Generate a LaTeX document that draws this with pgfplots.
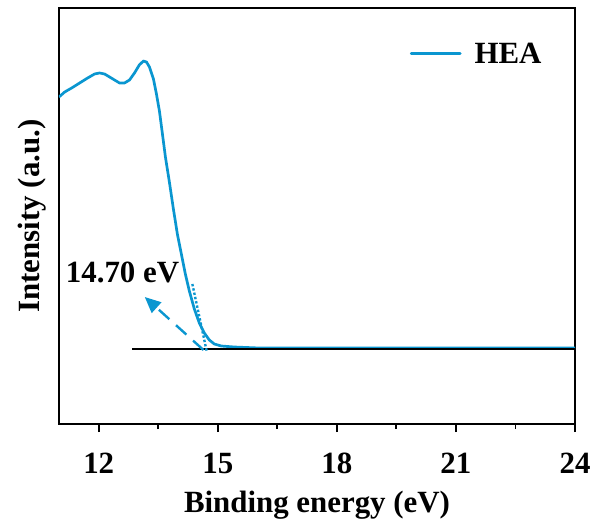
\documentclass[border=0pt]{standalone}
\usepackage{fontspec}
\setmainfont{Liberation Serif}
\usepackage{pgfplots}
\pgfplotsset{compat=1.18}
\usetikzlibrary{arrows.meta}
\definecolor{hea}{RGB}{10,150,208}
\newcommand{\bigf}{\fontsize{31}{36}\selectfont\bfseries}
\begin{document}
\begin{tikzpicture}
\begin{axis}[
  scale only axis,
  width=516bp, height=416bp,
  xmin=11, xmax=24, ymin=0, ymax=416,
  axis line style={line width=1.8pt},
  xtick={12,15,18,21,24},
  minor xtick={13.5,16.5,19.5,22.5},
  ytick=\empty,
  xtick pos=bottom,
  tick align=outside,
  major tick length=8bp, minor tick length=5bp,
  every tick/.style={line width=1.8pt, black},
  /pgf/number format/assume math mode=true,
  tick label style={font=\bigf},
  xticklabel style={anchor=base, yshift=-41bp},
  xlabel={Binding energy (eV)},
  ylabel={Intensity (a.u.)},
  label style={font=\bigf},
  xlabel style={at={(axis description cs:0.5,0)}, anchor=base, yshift=-88bp},
  ylabel style={at={([xshift=-19bp]axis description cs:0,0.5)}, anchor=base},
  legend style={draw=none, fill=none, font=\bigf, at={(rel axis cs:0.945,0.89)}, anchor=east,
    legend cell align=left, /tikz/every odd column/.append style={column sep=11bp}},
  legend image code/.code={\draw[#1, line cap=round] (0bp,0bp) -- (49bp,0bp);},
]
\addplot[hea, line width=2.7pt, line join=round] coordinates {
(11.00,327) (11.143,332) (11.319,336) (11.520,341) (11.721,346) (11.897,350)
(12.023,351) (12.148,350) (12.274,347) (12.399,344) (12.525,341) (12.651,341)
(12.776,344) (12.902,351) (13.023,359) (13.128,363) (13.204,362) (13.279,357)
(13.379,345) (13.455,330) (13.530,313) (13.606,290) (13.681,267) (13.781,242)
(13.882,215) (13.982,190) (14.083,170) (14.183,150) (14.284,133) (14.410,115)
(14.535,101) (14.661,91) (14.787,84) (14.912,80) (15.088,78) (15.415,77)
(16.043,76) (24.0,76)
};
\addlegendentry{HEA}
\addplot[black, line width=1.3pt, forget plot] coordinates {(12.85,75) (24,75)};
\addplot[hea, line width=2.4pt, dotted, forget plot] coordinates {(14.36,140) (14.72,73)};
\addplot[hea, line width=2.4pt, dash pattern=on 14bp off 9bp, forget plot,
  -{Triangle[length=16bp,width=14bp]}] coordinates {(14.64,74) (13.16,127)};
\node[font=\bigf] at (axis cs:12.6,152) {14.70 eV};
\end{axis}
\pgfresetboundingbox
\path (current axis.south west) ++(-59bp,-102bp) rectangle ++(596bp,526bp);
\end{tikzpicture}
\end{document}
